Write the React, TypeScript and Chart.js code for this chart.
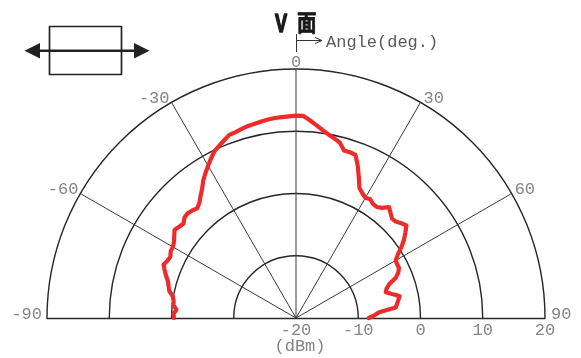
import React, { useEffect, useRef } from 'react';
import { Chart, registerables } from 'chart.js';

Chart.register(...registerables);

const angles = [
  -90, -88, -86, -84, -82, -80, -78, -76, -74, -72, -70, -68, -66, -64, -62, -60,
  -58, -56, -54, -52, -50, -48, -46, -44, -42, -40, -38, -36, -34, -32, -30,
  -28, -26, -24, -22, -20, -18, -16, -14, -12, -10, -8, -6, -4, -2, 0,
  2, 4, 6, 8, 10, 12, 14, 16, 18, 20, 22, 24, 26, 28, 30,
  32, 34, 36, 38, 40, 42, 44, 46, 48, 50, 52, 54, 56, 58, 60,
  62, 64, 66, 68, 70, 72, 74, 76, 78, 80, 82, 84, 86, 88, 90,
];
const levels = [
  -0.4, -0.3, -0.75, -0.2, -0.15, 0.1, 0.8, 1.1, 1.4, 1.95, 2.45, 2.95, 2.6, 2.45, 2.8, 2.85,
  3.1, 3.6, 4.1, 3.8, 3.6, 4.1, 4.2, 4.0, 3.7, 4.15, 4.9, 5.65, 6.65, 7.45, 8.25,
  9.05, 9.85, 10.3, 10.8, 11.3, 11.4, 11.6, 11.8, 11.9, 12.05, 12.2, 12.3, 12.35, 12.4, 12.5,
  12.5, 11.85, 11.15, 10.5, 9.95, 9.5, 9.05, 8.0, 8.0, 7.9, 6.45, 4.8, 3.25, 2.7, 2.3,
  2.5, 2.1, 2.05, 2.45, 3.25, 2.7, 2.2, 2.3, 2.75, 3.15, 2.3, 1.45, 0.45, -0.7, -1.5,
  -1.6, -1.6, -2.0, -2.7, -4.05, -4.7, -5.0, -4.1, -3.0, -3.3, -3.6, -3.9, -6.6, -7.4, -8.3,
];

const angleTicks = [-90, -60, -30, 0, 30, 60, 90];
const spokeAngles = [-60, -30, 0, 30, 60];
const levelTicks = [-20, -10, 0, 10, 20];
const ANGLE_STEP = 2;
const SLOT_COUNT = 360 / ANGLE_STEP;
const R_MIN = -20;
const R_MAX = 20;

const MONO = '"Liberation Mono", "DejaVu Sans Mono", monospace';

const slotAngle = (i: number) => -90 + i * ANGLE_STEP;
const slotOf = (a: number) => Math.round((a + 90) / ANGLE_STEP);

const decor = {
  id: 'polarDecor',
  beforeDatasetsDraw(chart: any) {
    const s = chart.scales.r;
    const ctx = chart.ctx;
    const cx = s.xCenter;
    const cy = s.yCenter;
    const R = s.drawingArea;
    ctx.save();
    ctx.fillStyle = '#ffffff';
    ctx.fillRect(0, cy + 1, chart.width, chart.height);
    ctx.strokeStyle = '#2b2b2b';
    ctx.lineWidth = 1.5;
    ctx.beginPath();
    ctx.moveTo(cx - R, cy + 0.5);
    ctx.lineTo(cx + R, cy + 0.5);
    ctx.stroke();
    ctx.restore();
  },
  afterDraw(chart: any) {
    const s = chart.scales.r;
    const ctx = chart.ctx;
    const cx = s.xCenter;
    const cy = s.yCenter;
    const R = s.drawingArea;
    ctx.save();

    // angle labels
    ctx.font = `17px ${MONO}`;
    ctx.fillStyle = '#858585';
    ctx.textBaseline = 'alphabetic';
    angleTicks.forEach((a) => {
      const p = s.getPointPosition(slotOf(a), R);
      if (a === 0) {
        ctx.textAlign = 'center';
        ctx.fillText(String(a), p.x, p.y - 2);
      } else if (a > 0) {
        ctx.textAlign = 'left';
        ctx.fillText(String(a), p.x + 3 + (a === 90 ? 3 : 0), p.y + 0.5);
      } else {
        ctx.textAlign = 'right';
        ctx.fillText(String(a), p.x - 2 - (a === -90 ? 3 : 0), p.y + 0.5);
      }
    });

    // level labels along the baseline
    ctx.textAlign = 'center';
    levelTicks.forEach((v) => {
      const x = cx + s.getDistanceFromCenterForValue(v);
      ctx.fillText(String(v), x, cy + 17);
    });
    ctx.fillText('(dBm)', cx + 4, cy + 33);

    // angle indicator
    ctx.strokeStyle = '#333';
    ctx.lineWidth = 1;
    ctx.beginPath();
    ctx.moveTo(cx + 0.5, 34);
    ctx.lineTo(cx + 0.5, 52);
    ctx.moveTo(cx + 0.5, 40.5);
    ctx.lineTo(cx + 26, 40.5);
    ctx.moveTo(cx + 19, 37.5);
    ctx.lineTo(cx + 26, 40.5);
    ctx.lineTo(cx + 19, 43.5);
    ctx.stroke();
    ctx.fillStyle = '#5a5a5a';
    ctx.textAlign = 'left';
    ctx.fillText('Angle(deg.)', cx + 30, 46.5);

    // title "V 面"
    ctx.fillStyle = '#1a1a1a';
    ctx.strokeStyle = '#1a1a1a';
    ctx.lineJoin = 'round';
    ctx.save();
    ctx.translate(cx - 21, 32);
    ctx.scale(0.7, 1);
    ctx.font = 'bold 26px "Liberation Sans", Arial, sans-serif';
    ctx.lineWidth = 1.6;
    ctx.fillText('V', 0, 0);
    ctx.strokeText('V', 0, 0);
    ctx.restore();
    ctx.save();
    ctx.translate(cx + 1, 31);
    ctx.scale(0.85, 1);
    ctx.font = 'bold 23px "Noto Sans CJK JP", sans-serif';
    ctx.lineWidth = 0.8;
    ctx.fillText('面', 0, 0);
    ctx.strokeText('面', 0, 0);
    ctx.restore();

    // polarisation icon
    ctx.strokeStyle = '#222';
    ctx.fillStyle = '#222';
    ctx.lineWidth = 1.7;
    ctx.strokeRect(49.5, 26.5, 72, 48);
    ctx.lineWidth = 2.4;
    ctx.beginPath();
    ctx.moveTo(38, 50.7);
    ctx.lineTo(136, 50.7);
    ctx.stroke();
    ctx.beginPath();
    ctx.moveTo(24.5, 50.7);
    ctx.lineTo(40, 43);
    ctx.lineTo(40, 58.4);
    ctx.closePath();
    ctx.fill();
    ctx.beginPath();
    ctx.moveTo(149.5, 50.7);
    ctx.lineTo(134, 43);
    ctx.lineTo(134, 58.4);
    ctx.closePath();
    ctx.fill();

    ctx.restore();
  },
};

export default function App() {
  const ref = useRef<HTMLCanvasElement | null>(null);

  useEffect(() => {
    if (!ref.current) return;
    const labels = Array.from({ length: SLOT_COUNT }, (_, i) => String(slotAngle(i)));
    const data: (number | null)[] = Array.from({ length: SLOT_COUNT }, () => null);
    angles.forEach((a, k) => {
      data[slotOf(a)] = levels[k];
    });
    const isSpoke = (i: number) => spokeAngles.includes(slotAngle(i));

    const chart = new Chart(ref.current, {
      type: 'radar',
      data: {
        labels,
        datasets: [
          {
            data,
            borderColor: '#ee2b2b',
            borderWidth: 4.2,
            fill: false,
            pointRadius: 0,
            pointHoverRadius: 0,
            spanGaps: false,
            tension: 0,
            borderJoinStyle: 'round',
            borderCapStyle: 'round',
          } as any,
        ],
      },
      options: {
        responsive: false,
        animation: false,
        events: [],
        layout: { padding: { left: 47, top: 69, right: 36, bottom: 33 } },
        plugins: {
          legend: { display: false },
          tooltip: { enabled: false },
          title: { display: false },
        },
        scales: {
          r: {
            min: R_MIN,
            max: R_MAX,
            startAngle: -90,
            ticks: { display: false, stepSize: 10 },
            grid: { circular: true, color: '#262626', lineWidth: 1.4 },
            angleLines: {
              display: true,
              color: '#3a3a3a',
              lineWidth: (c: any) => (isSpoke(c.index) ? 1 : 0),
            },
            pointLabels: { display: false },
          },
        },
      } as any,
      plugins: [decor],
    });
    return () => chart.destroy();
  }, []);

  return (
    <div
      style={{
        position: 'absolute',
        left: 0,
        top: 0,
        width: 581,
        height: 358,
        overflow: 'hidden',
        background: '#fff',
      }}
    >
      <canvas ref={ref} width={581} height={600} style={{ display: 'block' }} />
    </div>
  );
}
